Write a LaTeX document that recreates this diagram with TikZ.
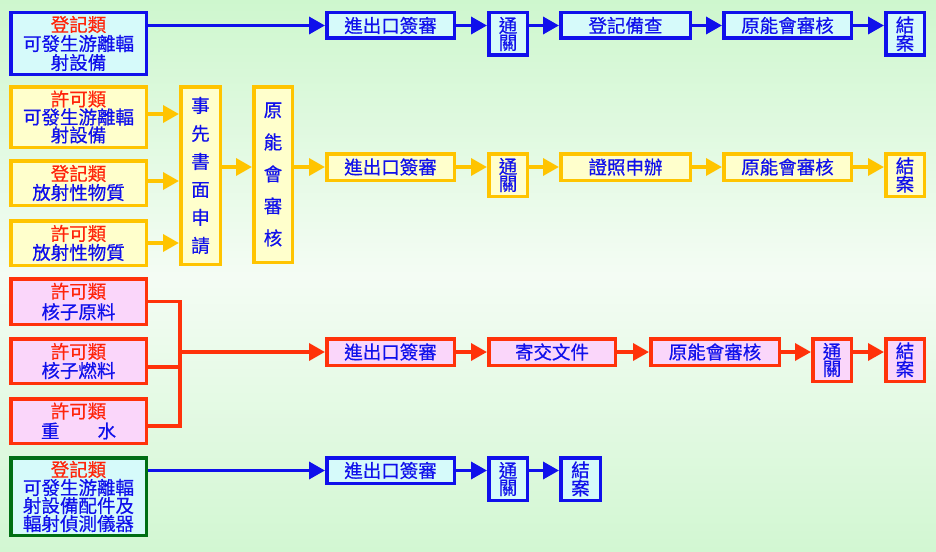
\documentclass[tikz,border=0pt]{standalone}
\usepackage{fontspec}
\newfontfamily\cjk[FakeBold=0.5]{Noto Sans CJK TC}
\usetikzlibrary{arrows.meta}
\definecolor{cBlue}{RGB}{16,16,235}
\definecolor{cRed}{RGB}{255,36,10}
\definecolor{cGold}{RGB}{255,196,0}
\definecolor{cOrange}{RGB}{255,50,10}
\definecolor{cGreen}{RGB}{0,110,20}
\definecolor{fCyan}{RGB}{214,250,250}
\definecolor{fYellow}{RGB}{255,255,204}
\definecolor{fPink}{RGB}{250,214,250}
\definecolor{bgTop}{RGB}{206,247,206}
\definecolor{bgMid}{RGB}{244,252,244}
\definecolor{bgBot}{RGB}{210,247,210}
\newcommand\hd[1]{{\color{cRed}#1}}
\begin{document}
\begin{tikzpicture}[x=1pt,y=-1pt,
  box/.style={draw, line width=3.5pt, inner sep=0pt, align=center, text=cBlue,
    font=\cjk\fontsize{18.5}{19}\selectfont},
  bluebox/.style={box, draw=cBlue, fill=fCyan},
  goldbox/.style={box, draw=cGold, fill=fYellow},
  redbox/.style={box, draw=cOrange, fill=fPink},
  greenbox/.style={box, draw=cGreen, fill=fCyan},
  leftbox/.style={minimum width=135.5pt},
  widebox/.style={minimum width=127.5pt, minimum height=25.5pt},
  narrowbox/.style={minimum width=38.5pt, minimum height=42.5pt, font=\cjk\fontsize{18.5}{17}\selectfont},
  flow/.style={line width=3.5pt, -{Triangle[length=16pt,width=17pt]}},
  blueflow/.style={flow, draw=cBlue, fill=cBlue},
  goldflow/.style={flow, draw=cGold, fill=cGold},
  redflow/.style={flow, draw=cOrange, fill=cOrange},
  redline/.style={line width=3.5pt, draw=cOrange}
]
\shade[top color=bgTop, bottom color=bgBot, middle color=bgMid] (0,0) rectangle (936,551);
\useasboundingbox (0,0) rectangle (936,551);

% Row 1
\node[bluebox, leftbox, minimum height=61.5pt] (L1) at (78.5,43.5) {\hd{登記類}\\可發生游離輻\\射設備};
\node[bluebox, widebox] (P1a) at (390.5,25.5) {進出口簽審};
\node[bluebox, narrowbox] (P1b) at (508,34) {通\\關};
\node[bluebox, widebox, minimum width=129.5pt] (P1c) at (625.5,25.5) {登記備查};
\node[bluebox, widebox] (P1d) at (787.5,25.5) {原能會審核};
\node[bluebox, narrowbox] (P1e) at (905,34) {結\\案};
\draw[blueflow] (L1.east |- P1a.west) -- (P1a.west);
\draw[blueflow] (P1a.east) -- (P1a.east -| P1b.west);
\draw[blueflow] (P1b.east |- P1c.west) -- (P1c.west);
\draw[blueflow] (P1c.east) -- (P1d.west);
\draw[blueflow] (P1d.east) -- (P1d.east -| P1e.west);

% Row 2
\node[goldbox, leftbox, minimum height=60.5pt, font=\cjk\fontsize{18.5}{18}\selectfont] (Y1) at (78.5,117) {\hd{許可類}\\可發生游離輻\\射設備};
\node[goldbox, leftbox, minimum height=44.5pt] (Y2) at (78.5,183) {\hd{登記類}\\放射性物質};
\node[goldbox, leftbox, minimum height=44.5pt] (Y3) at (78.5,243) {\hd{許可類}\\放射性物質};
\node[goldbox, minimum width=39.5pt, minimum height=177.5pt, font=\cjk\fontsize{18.5}{28}\selectfont] (S) at (200.5,175.5) {事\\先\\書\\面\\申\\請};
\node[goldbox, minimum width=38.5pt, minimum height=175.5pt, font=\cjk\fontsize{18.5}{32}\selectfont] (Q) at (273,174.5) {原\\能\\會\\審\\核};
\node[goldbox, widebox, minimum height=26.5pt] (P2a) at (390.5,167) {進出口簽審};
\node[goldbox, narrowbox] (P2b) at (508,175) {通\\關};
\node[goldbox, widebox, minimum width=129.5pt, minimum height=26.5pt] (P2c) at (625.5,167) {證照申辦};
\node[goldbox, widebox, minimum height=26.5pt] (P2d) at (787.5,167) {原能會審核};
\node[goldbox, narrowbox] (P2e) at (905,175) {結\\案};
\draw[goldflow] ([yshift=3pt]Y1.east) -- ([yshift=3pt]Y1.east -| S.west);
\draw[goldflow] ([yshift=2pt]Y2.east) -- ([yshift=2pt]Y2.east -| S.west);
\draw[goldflow] (Y3.east) -- (Y3.east -| S.west);
\draw[goldflow] (S.east |- P2a.west) -- (Q.west |- P2a.west);
\draw[goldflow] (Q.east |- P2a.west) -- (P2a.west);
\draw[goldflow] (P2a.east) -- (P2a.east -| P2b.west);
\draw[goldflow] (P2b.east |- P2c.west) -- (P2c.west);
\draw[goldflow] (P2c.east) -- (P2d.west);
\draw[goldflow] (P2d.east) -- (P2d.east -| P2e.west);

% Row 3
\node[redbox, leftbox, minimum height=45.5pt, font=\cjk\fontsize{18.5}{20.5}\selectfont] (R1) at (78.5,301.5) {\hd{許可類}\\核子原料};
\node[redbox, leftbox, minimum height=44.5pt] (R2) at (78.5,361) {\hd{許可類}\\核子燃料};
\node[redbox, leftbox, minimum height=44.5pt, font=\cjk\fontsize{18.5}{20}\selectfont] (R3) at (78.5,421) {\hd{許可類}\\重\hspace{38pt}水};
\node[redbox, widebox, minimum height=26.5pt] (P3a) at (390.5,352) {進出口簽審};
\node[redbox, widebox, minimum width=126.5pt, minimum height=26.5pt] (P3b) at (552,352) {寄交文件};
\node[redbox, widebox, minimum width=128.5pt, minimum height=26.5pt] (P3c) at (715,352) {原能會審核};
\node[redbox, narrowbox] (P3d) at (832,360) {通\\關};
\node[redbox, narrowbox] (P3e) at (905,360) {結\\案};
\coordinate (J) at (180,352);
\coordinate (r2e) at ([yshift=-6pt]R2.east);
\coordinate (r3e) at ([yshift=-5pt]R3.east);
\draw[redline] (R1.east) -- (R1.east -| J) -- (r3e -| J) -- (r3e);
\draw[redline] (r2e) -- (r2e -| J);
\draw[redflow] (J) -- (P3a.west);
\draw[redflow] (P3a.east) -- (P3b.west);
\draw[redflow] (P3b.east) -- (P3c.west);
\draw[redflow] (P3c.east) -- (P3c.east -| P3d.west);
\draw[redflow] (P3d.east |- P3c.east) -- (P3e.west |- P3c.east);

% Row 4
\node[greenbox, leftbox, minimum height=77.5pt, font=\cjk\fontsize{18.5}{18}\selectfont] (G) at (78.5,496.5) {\hd{登記類}\\可發生游離輻\\射設備配件及\\輻射偵測儀器};
\node[bluebox, widebox] (P4a) at (390.5,470.5) {進出口簽審};
\node[bluebox, narrowbox] (P4b) at (508,479) {通\\關};
\node[bluebox, narrowbox, minimum width=39.5pt] (P4c) at (580.5,479) {結\\案};
\draw[blueflow] (G.east |- P4a.west) -- (P4a.west);
\draw[blueflow] (P4a.east) -- (P4a.east -| P4b.west);
\draw[blueflow] (P4b.east |- P4a.east) -- (P4c.west |- P4a.east);
\end{tikzpicture}
\end{document}
